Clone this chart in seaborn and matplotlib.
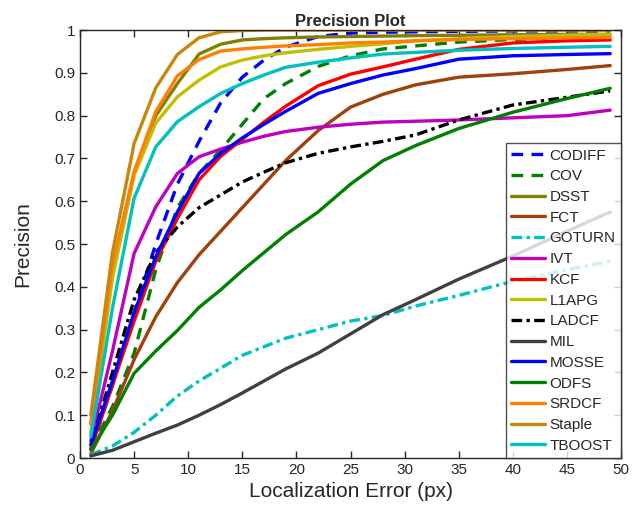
import numpy as np
import pandas as pd
import matplotlib
matplotlib.use('Agg')
import matplotlib.pyplot as plt
import seaborn as sns

sns.set_style('white')
plt.rcParams['font.family'] = ['Liberation Sans', 'DejaVu Sans']

# localization error thresholds (px)
err = [1, 3, 5, 7, 9, 11, 13, 15, 17, 19, 22, 25, 28, 31, 35, 40, 45, 49]

codiff = [0.02, 0.17, 0.34, 0.50, 0.64, 0.74, 0.83, 0.89, 0.93, 0.96, 0.985, 0.993, 0.995, 0.996, 0.997, 0.998, 0.998, 0.998]
cov    = [0.02, 0.12, 0.245, 0.44, 0.585, 0.665, 0.72, 0.78, 0.84, 0.875, 0.915, 0.94, 0.956, 0.963, 0.972, 0.978, 0.983, 0.986]
dsst   = [0.08, 0.43, 0.665, 0.80, 0.875, 0.944, 0.967, 0.977, 0.98, 0.982, 0.984, 0.985, 0.986, 0.987, 0.988, 0.989, 0.99, 0.99]
fct    = [0.01, 0.11, 0.23, 0.33, 0.41, 0.475, 0.53, 0.585, 0.64, 0.695, 0.765, 0.82, 0.85, 0.872, 0.89, 0.898, 0.908, 0.917]
goturn = [0.008, 0.028, 0.06, 0.10, 0.145, 0.18, 0.21, 0.24, 0.26, 0.28, 0.30, 0.32, 0.333, 0.355, 0.38, 0.413, 0.44, 0.46]
ivt    = [0.04, 0.25, 0.478, 0.587, 0.665, 0.704, 0.722, 0.738, 0.752, 0.763, 0.773, 0.78, 0.785, 0.787, 0.79, 0.795, 0.80, 0.813]
kcf    = [0.02, 0.17, 0.32, 0.46, 0.56, 0.65, 0.705, 0.745, 0.785, 0.822, 0.87, 0.897, 0.914, 0.932, 0.955, 0.97, 0.975, 0.977]
l1apg  = [0.06, 0.42, 0.66, 0.783, 0.844, 0.883, 0.914, 0.93, 0.94, 0.947, 0.955, 0.962, 0.968, 0.975, 0.98, 0.985, 0.988, 0.99]
ladcf  = [0.03, 0.20, 0.37, 0.48, 0.54, 0.585, 0.615, 0.645, 0.668, 0.69, 0.712, 0.727, 0.74, 0.755, 0.79, 0.825, 0.843, 0.858]
mil    = [0.005, 0.018, 0.038, 0.058, 0.077, 0.10, 0.125, 0.152, 0.18, 0.208, 0.245, 0.29, 0.335, 0.37, 0.418, 0.472, 0.53, 0.575]
mosse  = [0.03, 0.18, 0.34, 0.47, 0.575, 0.665, 0.712, 0.748, 0.78, 0.81, 0.852, 0.875, 0.895, 0.91, 0.932, 0.94, 0.943, 0.945]
odfs   = [0.02, 0.10, 0.198, 0.25, 0.298, 0.352, 0.393, 0.438, 0.48, 0.522, 0.575, 0.64, 0.695, 0.73, 0.77, 0.808, 0.84, 0.864]
srdcf  = [0.08, 0.45, 0.67, 0.809, 0.893, 0.931, 0.951, 0.956, 0.96, 0.963, 0.966, 0.97, 0.972, 0.975, 0.978, 0.98, 0.982, 0.983]
staple = [0.10, 0.48, 0.735, 0.865, 0.943, 0.982, 0.996, 0.999, 1.0, 1.0, 1.0, 1.0, 1.0, 1.0, 1.0, 1.0, 1.0, 1.0]
tboost = [0.05, 0.35, 0.607, 0.727, 0.786, 0.821, 0.852, 0.875, 0.895, 0.913, 0.925, 0.935, 0.944, 0.948, 0.953, 0.957, 0.96, 0.962]

trackers = ['CODIFF', 'COV', 'DSST', 'FCT', 'GOTURN', 'IVT', 'KCF', 'L1APG',
            'LADCF', 'MIL', 'MOSSE', 'ODFS', 'SRDCF', 'Staple', 'TBOOST']
values = [codiff, cov, dsst, fct, goturn, ivt, kcf, l1apg,
          ladcf, mil, mosse, odfs, srdcf, staple, tboost]
colors = ['#0000FF', '#008000', '#808000', '#A0400A', '#00C0C0', '#C000C0', '#FF0000', '#C0C000',
          '#000000', '#404040', '#0000FF', '#008000', '#FF8000', '#C8860B', '#00C0C0']
DASH = (3.5, 2.5)
DASHDOT = (3.2, 1.3, 1.0, 1.3)
styles = [DASH, DASH, None, None, DASHDOT, None, None, None,
          DASHDOT, None, None, None, None, None, None]

df = pd.DataFrame({
    'err': np.tile(err, len(trackers)),
    'prec': np.concatenate(values),
    'tracker': np.repeat(trackers, len(err)),
})

fig = plt.figure(figsize=(6.38, 5.19), dpi=100)
ax = fig.add_axes([0.1254, 0.1175, 0.848, 0.8245])

for name, c, ds in zip(trackers, colors, styles):
    sub = df[df['tracker'] == name]
    kw = {} if ds is None else {'dashes': ds}
    sns.lineplot(data=sub, x='err', y='prec', ax=ax, color=c,
                 linewidth=2.4, label=name, **kw)

ax.set_xlim(0, 50)
ax.set_ylim(0, 1)
ax.set_xticks(np.arange(0, 51, 5))
ax.set_yticks(np.arange(0, 1.01, 0.1))
ax.set_yticklabels(['0', '0.1', '0.2', '0.3', '0.4', '0.5', '0.6', '0.7', '0.8', '0.9', '1'])
ax.tick_params(direction='in', length=5, width=1, labelsize=11, colors='#262626',
               top=True, right=True, bottom=True, left=True)
for sp in ax.spines.values():
    sp.set_color('#262626')
    sp.set_linewidth(1)
ax.set_xlabel('Localization Error (px)', fontsize=15, color='#262626')
ax.set_ylabel('Precision', fontsize=15, color='#262626', labelpad=16)
ax.set_title('Precision Plot', fontsize=12, fontweight='bold', pad=3)

leg = ax.legend(loc='lower right', fontsize=11, frameon=True, fancybox=False,
                handlelength=2.2, handletextpad=0.3, labelspacing=0.44,
                borderpad=0.35, borderaxespad=0.0)
leg.get_frame().set_edgecolor('#262626')
leg.get_frame().set_linewidth(1)

fig.savefig('out.png', dpi=100)
